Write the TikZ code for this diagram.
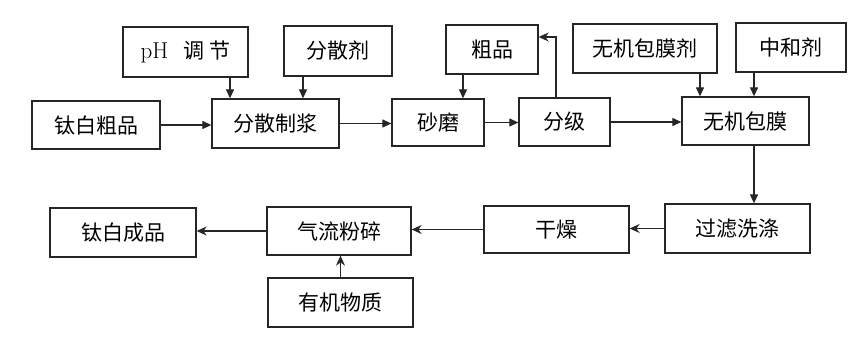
\documentclass[tikz,border=0pt]{standalone}
\usepackage{fontspec}
\newfontfamily\cjk{Noto Sans CJK SC}
\usetikzlibrary{arrows.meta}
\begin{document}
\begin{tikzpicture}[x=1pt,y=-1pt,
  box/.style={draw=black!85,line width=1.3pt,rectangle,inner sep=0pt,font=\cjk\fontsize{21}{21}\selectfont},
  arr/.style={draw=black!85,line width=1.2pt,-{Triangle[length=9pt,width=8pt]}},
  arrs/.style={draw=black!85,line width=1.2pt,-{Stealth[length=10pt,width=9pt]}}]
\useasboundingbox (0,0) rectangle (850,344);
\node[box,minimum width=125pt,minimum height=50pt] (ph) at (185.5,52) {{\rmfamily\fontsize{23}{23}\selectfont pH}\hspace{15pt}调\hspace{5pt}节};
\node[box,minimum width=108pt,minimum height=50pt] (fsj) at (338,51) {分散剂};
\node[box,minimum width=128pt,minimum height=48pt] (tb) at (96,125) {钛白粗品};
\node[box,minimum width=127pt,minimum height=49pt] (fs) at (275.5,123.5) {分散制浆};
\node[box,minimum width=92pt,minimum height=47pt] (sm) at (438,122.5) {砂磨};
\node[box,minimum width=92pt,minimum height=49pt] (cp) at (492,49.5) {粗品};
\node[box,minimum width=91pt,minimum height=48pt] (fj) at (564.5,122) {分级};
\node[box,minimum width=144pt,minimum height=49pt] (wjj) at (645,48.5) {无机包膜剂};
\node[box,minimum width=110pt,minimum height=49pt] (zhj) at (791,47.5) {中和剂};
\node[box,minimum width=127pt,minimum height=48pt] (wm) at (745.5,121) {无机包膜};
\node[box,minimum width=145pt,minimum height=49pt] (gl) at (737.5,228.5) {过滤洗涤};
\node[box,minimum width=145pt,minimum height=47pt] (gz) at (556.5,229.5) {干燥};
\node[box,minimum width=144pt,minimum height=48pt] (ql) at (339,231) {气流粉碎};
\node[box,minimum width=146pt,minimum height=49pt] (tc) at (123,232.5) {钛白成品};
\node[box,minimum width=145pt,minimum height=49pt] (yj) at (340.5,302.5) {有机物质};
% connectors
\draw[arr] (tb.east) -- (tb.east -| fs.west);
\draw[arr] ([xshift=44.5pt]ph.south) -- ([xshift=44.5pt]ph.south |- fs.north);
\draw[arr] ([xshift=-35pt]fsj.south) -- ([xshift=-35pt]fsj.south |- fs.north);
\draw[arr] (fs.east) -- (fs.east -| sm.west);
\draw[arr] ([xshift=-29pt]cp.south) -- ([xshift=-29pt]cp.south |- sm.north);
\draw[arr] (sm.east) -- (sm.east -| fj.west);
\draw[arrs] ([xshift=-8.5pt]fj.north) |- ([yshift=12.5pt]cp.east);
\draw[arr] (fj.east) -- (fj.east -| wm.west);
\draw[arr] ([xshift=55pt]wjj.south) -- ([xshift=55pt]wjj.south |- wm.north);
\draw[arr] ([xshift=-37pt]zhj.south) -- ([xshift=-37pt]zhj.south |- wm.north);
\draw[arr] ([xshift=8.5pt]wm.south) -- ([xshift=8.5pt]wm.south |- gl.north);
\draw[arrs] (gl.west) -- (gl.west -| gz.east);
\draw[arrs] (gz.west) -- (gz.west -| ql.east);
\draw[arrs] (ql.west) -- (ql.west -| tc.east);
\draw[arrs] (yj.north) -- (yj.north |- ql.south);
\end{tikzpicture}
\end{document}
